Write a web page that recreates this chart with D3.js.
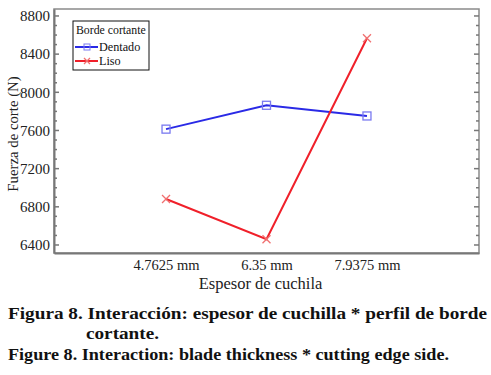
<!DOCTYPE html>
<html>
<head>
<meta charset="utf-8">
<script src="https://cdn.jsdelivr.net/npm/d3@7"></script>
<style>
  body { margin: 0; background: #fff; }
</style>
</head>
<body>
<div id="chart"></div>
<script>
// data
const thickness = ["4.7625 mm", "6.35 mm", "7.9375 mm"];
const dentado = [7614, 7864, 7752];
const liso = [6882, 6460, 8566];
const yTicks = [6400, 6800, 7200, 7600, 8000, 8400, 8800];
const seriesNames = ["Dentado", "Liso"];
const seriesColors = ["#2a2ae6", "#f0202a"];

const FONT = "Liberation Serif";
const W = 491, H = 375;
const margin = { top: 9, right: 12, bottom: 122, left: 54 },
    width = W - margin.left - margin.right,
    height = H - margin.top - margin.bottom;

const svg = d3.select("#chart")
    .append("svg")
    .attr("width", W)
    .attr("height", H)
    .attr("font-family", FONT);

const g = svg.append("g")
    .attr("transform", `translate(${margin.left}, ${margin.top})`);

const x = d3.scalePoint()
    .domain(thickness)
    .range([0, width])
    .padding(1.115);

const y = d3.scaleLinear()
    .domain([6316, 8873])
    .range([height, 0]);

const minor = d3.range(6400, 8801, 100);

// frame
g.append("rect")
    .attr("width", width)
    .attr("height", height)
    .attr("fill", "none")
    .attr("stroke", "#8a8a8a")
    .attr("stroke-width", 1.5);

// left axis (ticks inward)
const left = g.append("g")
    .call(d3.axisLeft(y).tickValues(yTicks).tickFormat(d3.format("d")).tickSize(0).tickPadding(4));
left.select(".domain").attr("stroke", "#777").attr("stroke-width", 2);
left.selectAll("text").attr("font-size", 15).attr("fill", "#222")
    .attr("font-family", FONT);
left.selectAll(".mj").data(minor).enter().append("line")
    .attr("x1", 0).attr("x2", d => d % 400 === 0 ? 5 : 3)
    .attr("y1", d => y(d)).attr("y2", d => y(d))
    .attr("stroke", "#777").attr("stroke-width", 1.5);

// right axis mirror ticks
g.append("g").selectAll("line").data(minor).enter().append("line")
    .attr("x1", width).attr("x2", d => width - (d % 400 === 0 ? 5 : 3))
    .attr("y1", d => y(d)).attr("y2", d => y(d))
    .attr("stroke", "#777").attr("stroke-width", 1.5);

// bottom axis
const bottom = g.append("g")
    .attr("transform", `translate(0, ${height})`)
    .call(d3.axisBottom(x).tickSize(0).tickPadding(7));
bottom.select(".domain").attr("stroke", "#777").attr("stroke-width", 2);
bottom.selectAll("text").attr("font-size", 14.5).attr("fill", "#222")
    .attr("font-family", FONT);

// axis titles
g.append("text")
    .attr("transform", `translate(-36, 125) rotate(-90)`)
    .attr("text-anchor", "middle")
    .attr("font-size", 14.8)
    .attr("fill", "#222")
    .text("Fuerza de corte (N)");

g.append("text")
    .attr("x", x("6.35 mm") - 6)
    .attr("y", height + 36)
    .attr("text-anchor", "middle")
    .attr("font-size", 16.5)
    .attr("fill", "#222")
    .text("Espesor de cuchila");

// lines
const line = d3.line()
    .x((d, i) => x(thickness[i]))
    .y(d => y(d));

[dentado, liso].forEach(function (vals, k) {
    g.append("path")
        .datum(vals)
        .attr("d", line)
        .attr("fill", "none")
        .attr("stroke", seriesColors[k])
        .attr("stroke-width", 2);
});

// markers
g.selectAll(".sq").data(dentado).enter().append("rect")
    .attr("x", (d, i) => x(thickness[i]) - 4)
    .attr("y", d => y(d) - 4)
    .attr("width", 8).attr("height", 8)
    .attr("fill", "none")
    .attr("stroke", "#7a7af0")
    .attr("stroke-width", 1.3);

const cross = function (sel, cx, cy, r, col) {
    sel.append("path")
        .attr("d", `M${cx - r},${cy - r}L${cx + r},${cy + r}M${cx - r},${cy + r}L${cx + r},${cy - r}`)
        .attr("stroke", col)
        .attr("stroke-width", 1.3)
        .attr("fill", "none");
};
liso.forEach(function (d, i) {
    cross(g, x(thickness[i]), y(d), 4, "#f07070");
});

// legend
const lg = g.append("g").attr("transform", "translate(19, 12)");
lg.append("rect")
    .attr("width", 76).attr("height", 49)
    .attr("fill", "#fff").attr("stroke", "#111").attr("stroke-width", 1);
lg.append("text").attr("x", 3).attr("y", 13).attr("font-size", 11.8).attr("fill", "#111")
    .text("Borde cortante");
seriesNames.forEach(function (name, i) {
    const yy = 26 + i * 14;
    lg.append("line")
        .attr("x1", 2).attr("x2", 25).attr("y1", yy).attr("y2", yy)
        .attr("stroke", seriesColors[i]).attr("stroke-width", 2);
    if (i === 0) {
        lg.append("rect").attr("x", 11).attr("y", yy - 3).attr("width", 6).attr("height", 6)
            .attr("fill", "none").attr("stroke", "#7a7af0").attr("stroke-width", 1);
    } else {
        cross(lg, 14, yy, 3, "#f07070");
    }
    lg.append("text").attr("x", 26).attr("y", yy + 4).attr("font-size", 12.2).attr("fill", "#111")
        .text(name);
});

// caption
const cap = svg.append("g")
    .attr("font-size", 17.5)
    .attr("font-weight", "bold")
    .attr("fill", "#111");
cap.append("text").attr("x", 8).attr("y", 319)
    .attr("textLength", 479).attr("lengthAdjust", "spacingAndGlyphs")
    .text("Figura 8. Interacción: espesor de cuchilla * perfil de borde");
cap.append("text").attr("x", 86).attr("y", 339)
    .attr("textLength", 73).attr("lengthAdjust", "spacingAndGlyphs")
    .text("cortante.");
cap.append("text").attr("x", 8).attr("y", 360)
    .attr("textLength", 441).attr("lengthAdjust", "spacingAndGlyphs")
    .text("Figure 8. Interaction: blade thickness * cutting edge side.");
</script>
</body>
</html>
